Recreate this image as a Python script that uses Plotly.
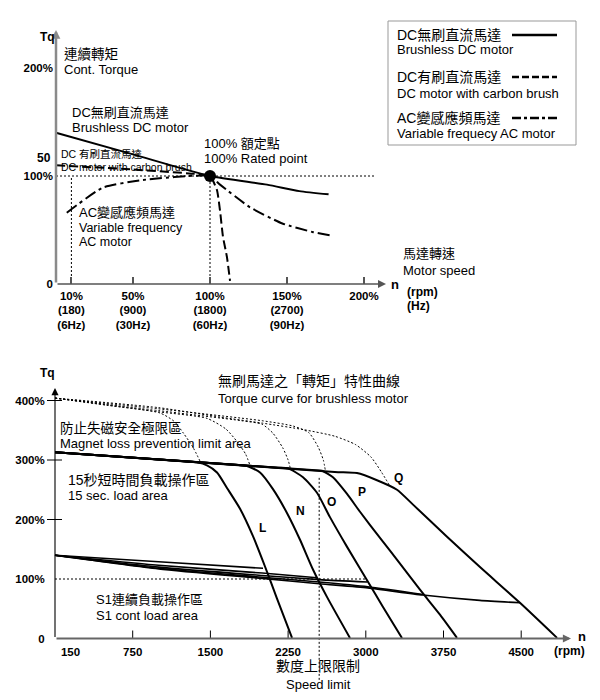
import plotly.graph_objects as go

W, H = 600, 700
FONT = "Liberation Sans, Arial, Noto Sans CJK TC, sans-serif"

# ---------------- top chart data (speed % vs continuous torque %) ----------------
speed_ticks = [10, 50, 100, 150, 200]
speed_tick_text = ["10%<br>(180)<br>(6Hz)", "50%<br>(900)<br>(30Hz)",
                   "100%<br>(1800)<br>(60Hz)", "150%<br>(2700)<br>(90Hz)", "200%"]
cont_torque_ticks = [0, 100, 200]
cont_torque_text = ["0", "100%", "200%"]

bldc_speed = [0, 50, 100, 137, 158, 177]
bldc_torque = [140, 120, 100, 92, 86, 83]
brush_speed = [0, 50, 90, 100, 104.5, 106.5, 108.4, 111, 113]
brush_torque = [110, 106, 102, 100, 87, 68, 44, 25, 3]
ac_speed = [7, 30, 54.5, 100, 106.5, 126, 147, 167, 178]
ac_torque = [66, 89, 96, 100, 92, 71, 56, 48, 45]
rated_speed = [100]
rated_torque = [100]
guide_speeds = [10, 100]
guide_level = 100
guide_end_speed = 207

# ---------------- bottom chart data (rpm vs torque %) ----------------
rpm_ticks = [150, 750, 1500, 2250, 3000, 3750, 4500]
rpm_tick_text = ["150", "750", "1500", "2250", "3000", "3750", "4500"]
rpm_tickmarks = [750, 1500, 2250, 3000, 3750, 4500]
torque_ticks = [0, 100, 200, 300, 400]
torque_tick_text = ["0", "100%", "200%", "300%", "400%"]
torque_tickmarks = [200, 300, 400]

motors = ["L", "N", "O", "P", "Q"]
short_rpm = {
    "L": [0, 1250, 1371, 1467, 1564, 1660, 1786, 1911, 2027, 2143, 2288],
    "N": [0, 1750, 1853, 1979, 2104, 2239, 2365, 2490, 2625, 2847],
    "O": [0, 2150, 2249, 2394, 2529, 2654, 2819, 3012, 3166, 3349],
    "P": [0, 2480, 2577, 2683, 2819, 2944, 3137, 3330, 3523, 3716, 3880],
    "Q": [0, 2700, 2915, 3108, 3301, 3456, 3784, 4102, 4488, 4846],
}
short_tq = {
    "L": [313, 298, 296, 291, 279, 253, 218, 172, 121, 67, 1],
    "N": [313, 292, 290, 279, 251, 211, 166, 116, 70, 1],
    "O": [313, 287, 286, 271, 245, 204, 154, 98, 53, 1],
    "P": [313, 283, 282, 271, 243, 213, 169, 126, 82, 40, 1],
    "Q": [313, 280, 278, 266, 250, 225, 171, 120, 60, 1],
}
limit_rpm = {
    "L": [0, 500, 1014, 1150, 1240, 1330, 1400],
    "N": [0, 1000, 1467, 1650, 1757, 1840, 1880],
    "O": [0, 1000, 1800, 2000, 2104, 2200, 2250, 2270],
    "P": [0, 1000, 2000, 2300, 2450, 2540, 2590, 2610],
    "Q": [0, 1000, 1600, 2000, 2400, 2700, 2900, 3050, 3150, 3230],
}
limit_tq = {
    "L": [404, 392, 379, 365, 345, 322, 298],
    "N": [404, 381, 370, 352, 331, 310, 292],
    "O": [404, 383, 366, 360, 345, 320, 300, 287],
    "P": [404, 386, 366, 357, 346, 322, 300, 282],
    "Q": [404, 388, 372, 362, 351, 340, 326, 305, 280, 257],
}
s1_rpm = {
    "L": [0, 1000, 2008],
    "N": [0, 1000, 2000, 2529],
    "O": [0, 1000, 2000, 2550, 3015],
    "P": [0, 1000, 2000, 2550, 3020, 3552],
    "Q": [0, 1000, 2000, 2550, 3020, 3550, 4100, 4488],
}
s1_tq = {
    "L": [140, 129, 118],
    "N": [140, 123, 110, 102],
    "O": [140, 120, 106, 99, 95],
    "P": [140, 118, 103, 95, 87, 74],
    "Q": [140, 117, 101, 92, 85, 73, 64, 60],
}
label_pos = {"L": (262, 528), "N": (300, 511), "O": (331, 502), "P": (362, 492), "Q": (398, 478)}
s1_level = 100
s1_level_end = 3000
speed_limit = 2550
speed_limit_top, speed_limit_bottom = 270, -73

# ---------------- pixel layout of the two panels ----------------
SPLIT = 340
TX0, TKX, TY0, TKY = 56, 1.54, 284, 1.08          # top: px of 0%, px per %
BX0, BKX, BY0, BKY = 55, 0.1036, 638.5, 0.595     # bottom: px of 0 rpm, px per rpm


def px(x):
    return x / W


def py(y):
    return 1 - y / H


fig = go.Figure()

# ---- top curves ----
fig.add_trace(go.Scatter(x=bldc_speed, y=bldc_torque, mode="lines", line=dict(color="black", width=2, shape="spline", smoothing=0.6),
                         xaxis="x", yaxis="y", showlegend=False))
fig.add_trace(go.Scatter(x=brush_speed, y=brush_torque, mode="lines", line=dict(color="black", width=2, dash="9px,4px", shape="spline", smoothing=0.5),
                         xaxis="x", yaxis="y", showlegend=False))
fig.add_trace(go.Scatter(x=ac_speed, y=ac_torque, mode="lines", line=dict(color="black", width=2, dash="12px,4px,3px,4px", shape="spline", smoothing=0.5),
                         xaxis="x", yaxis="y", showlegend=False))
fig.add_trace(go.Scatter(x=[0, guide_end_speed], y=[guide_level, guide_level], mode="lines",
                         line=dict(color="black", width=1, dash="2px,2px"), xaxis="x", yaxis="y", showlegend=False))
for s in guide_speeds:
    fig.add_trace(go.Scatter(x=[s, s], y=[0, guide_level], mode="lines",
                             line=dict(color="black", width=1, dash="2px,2px"), xaxis="x", yaxis="y", showlegend=False))
fig.add_trace(go.Scatter(x=rated_speed, y=rated_torque, mode="markers", marker=dict(color="black", size=12),
                         xaxis="x", yaxis="y", showlegend=False))

# ---- bottom curves ----
for m in motors:
    fig.add_trace(go.Scatter(x=limit_rpm[m], y=limit_tq[m], mode="lines",
                             line=dict(color="black", width=1, dash="2px,2px", shape="spline", smoothing=0.6),
                             xaxis="x2", yaxis="y2", showlegend=False))
for m in motors:
    fig.add_trace(go.Scatter(x=short_rpm[m], y=short_tq[m], mode="lines",
                             line=dict(color="black", width=2, shape="spline", smoothing=0.6),
                             xaxis="x2", yaxis="y2", showlegend=False))
    fig.add_trace(go.Scatter(x=s1_rpm[m], y=s1_tq[m], mode="lines",
                             line=dict(color="black", width=1.6, shape="spline", smoothing=0.6),
                             xaxis="x2", yaxis="y2", showlegend=False))
fig.add_trace(go.Scatter(x=[0, s1_level_end], y=[s1_level, s1_level], mode="lines",
                         line=dict(color="black", width=1, dash="2px,2px"), xaxis="x2", yaxis="y2", showlegend=False))
fig.add_trace(go.Scatter(x=[speed_limit, speed_limit], y=[speed_limit_top, speed_limit_bottom], mode="lines",
                         line=dict(color="black", width=1, dash="2px,2px"), xaxis="x2", yaxis="y2", showlegend=False))

tickfont = dict(family=FONT, size=11.5, color="black", weight="bold")
fig.update_layout(
    width=W, height=H, autosize=False,
    margin=dict(l=0, r=0, t=0, b=0),
    paper_bgcolor="white", plot_bgcolor="white",
    xaxis=dict(domain=[0, 1], range=[-TX0 / TKX, (W - TX0) / TKX], anchor="free", position=py(TY0),
               tickmode="array", tickvals=speed_ticks, ticktext=speed_tick_text, ticks="inside", ticklen=7,
               tickwidth=1.5, tickcolor="#555", showgrid=False, zeroline=False, showline=False,
               tickfont=tickfont, ticklabelstandoff=3),
    yaxis=dict(domain=[py(SPLIT), 1], range=[(TY0 - SPLIT) / TKY, TY0 / TKY], anchor="free", position=px(TX0),
               tickmode="array", tickvals=cont_torque_ticks, ticktext=cont_torque_text, ticks="",
               showgrid=False, zeroline=False, showline=False, tickfont=tickfont, ticklabelstandoff=3),
    xaxis2=dict(domain=[0, 1], range=[-BX0 / BKX, (W - BX0) / BKX], anchor="free", position=py(BY0),
                tickmode="array", tickvals=rpm_ticks, ticktext=rpm_tick_text, ticks="",
                showgrid=False, zeroline=False, showline=False, tickfont=tickfont, ticklabelstandoff=5),
    yaxis2=dict(domain=[0, py(SPLIT)], range=[(BY0 - H) / BKY, (BY0 - SPLIT) / BKY], anchor="free", position=px(BX0),
                tickmode="array", tickvals=torque_ticks, ticktext=torque_tick_text, ticks="outside", ticklen=8,
                tickcolor="rgba(0,0,0,0)", showgrid=False, zeroline=False, showline=False, tickfont=tickfont),
)

shapes = []
# legend box
shapes.append(dict(type="rect", xref="paper", yref="paper", x0=px(388), x1=px(576), y0=py(21), y1=py(145),
                   line=dict(color="#999", width=1)))
for yy, dash in [(35, "solid"), (77, "7px,3px"), (118, "9px,3px,3px,3px")]:
    shapes.append(dict(type="line", xref="paper", yref="paper", x0=px(512), x1=px(557), y0=py(yy), y1=py(yy),
                       line=dict(color="black", width=2.5, dash=dash)))
# bottom x tick marks
for v in rpm_tickmarks:
    shapes.append(dict(type="line", xref="x2", yref="y2", x0=v, x1=v, y0=0, y1=8 / BKY,
                       line=dict(color="black", width=1)))
# bottom y tick marks (crossing the axis)
for v in torque_tickmarks:
    shapes.append(dict(type="line", xref="paper", yref="y2", x0=px(47), x1=px(62), y0=v, y1=v,
                       line=dict(color="black", width=1)))
fig.update_layout(shapes=shapes)

ann = []


def arrow(xref, yref, x0, y0, x1, y1, color, width, size):
    ann.append(dict(x=x1, y=y1, ax=x0, ay=y0, xref=xref, yref=yref, axref=xref, ayref=yref, text="",
                    showarrow=True, arrowhead=2, arrowsize=size, arrowwidth=width, arrowcolor=color))


# axes with arrows
arrow("x", "y", 0, 0, 0, (TY0 - 30) / TKY, "#8a8a8a", 2.5, 0.7)
arrow("x", "y", 0, 0, (386 - TX0) / TKX, 0, "#555", 1.6, 1.0)
arrow("x2", "y2", 0, 0, 0, (BY0 - 388) / BKY, "black", 1.1, 1.3)
arrow("x2", "y2", 0, 0, (571 - BX0) / BKX, 0, "#666", 1.8, 0.9)


def txt(s, x, y, size=13, bold=False, anchor="left"):
    ann.append(dict(text=s, x=px(x), y=py(y), xref="paper", yref="paper", xanchor=anchor, yanchor="middle",
                    showarrow=False, borderpad=0,
                    font=dict(family=FONT, size=size, color="black", weight="bold" if bold else "normal")))


# top texts
txt("Tq", 47, 37, 12, True, "center")
txt("連續轉矩", 63, 54, 13.5)
txt("Cont. Torque", 63, 70, 13)
txt("DC無刷直流馬達", 71, 112, 13)
txt("Brushless DC motor", 71, 128, 13)
txt("DC 有刷直流馬達", 60, 153.5, 10.5)
txt("DC motor with carbon brush", 60, 167, 10.5)
txt("100% 額定點", 203, 143, 13)
txt("100% Rated point", 203, 159, 13)
txt("AC變感應頻馬達", 78, 212, 13)
txt("Variable frequency", 78, 228, 12.5)
txt("AC motor", 78, 242, 12.5)
txt("馬達轉速", 402, 253, 13)
txt("Motor speed", 402, 270, 13)
txt("n", 395, 284, 13, True, "center")
txt("(rpm)", 406, 292, 12, True)
txt("(Hz)", 406, 306, 12, True)
txt("50", 52, 158, 12, True, "right")
# legend texts
txt("DC無刷直流馬達", 396, 35, 14)
txt("Brushless DC motor", 396, 50, 13)
txt("DC有刷直流馬達", 396, 77, 14)
txt("DC motor with carbon brush", 396, 93, 13)
txt("AC變感應頻馬達", 396, 118, 14)
txt("Variable frequecy AC motor", 396, 134, 13)

# bottom texts
txt("Tq", 47, 373, 12, True, "center")
txt("無刷馬達之「轉矩」特性曲線", 217, 381, 14)
txt("Torque curve for brushless motor", 217, 399, 13)
txt("防止失磁安全極限區", 59, 428, 13.5)
txt("Magnet loss prevention limit area", 59, 444, 13)
txt("15秒短時間負載操作區", 67, 480, 14)
txt("15 sec. load area", 67, 496, 13)
for m in motors:
    txt(m, label_pos[m][0], label_pos[m][1], 12, True, "center")
txt("S1連續負載操作區", 95, 599, 13)
txt("S1 cont load area", 95, 615, 13)
txt("數度上限限制", 318, 666, 14, False, "center")
txt("Speed limit", 318, 684, 13, False, "center")
txt("n", 582, 636, 13, True, "center")
txt("(rpm)", 569, 651, 12, True, "center")

fig.update_layout(annotations=ann)

fig.write_html("out.html", config={"displayModeBar": False},
               post_script="document.body.style.margin='0';")
